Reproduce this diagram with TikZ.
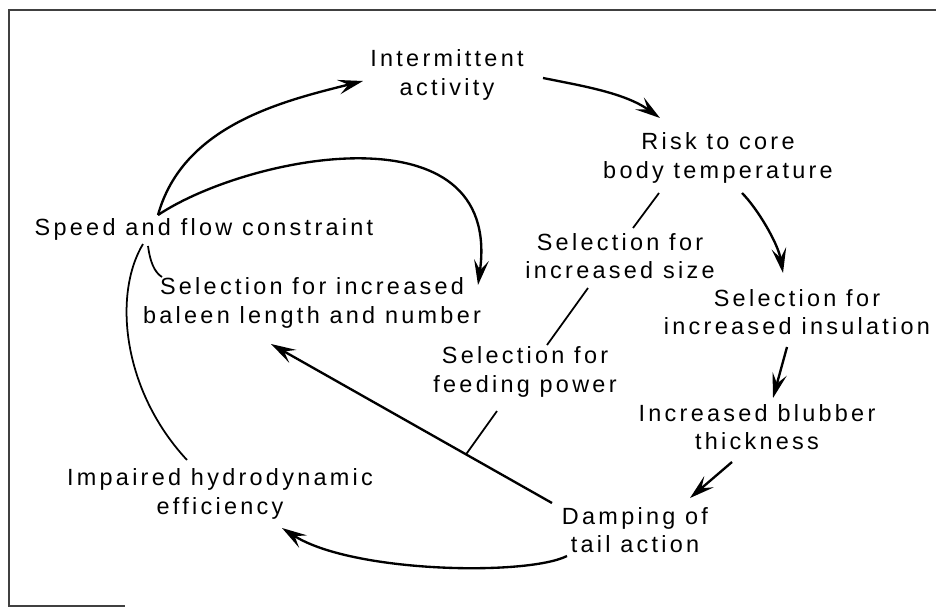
\documentclass[tikz,border=0pt]{standalone}
\usepackage{fontspec}
\setmainfont[LetterSpace=14]{Liberation Sans}
\usepackage{tikz}
\usetikzlibrary{positioning,arrows.meta,calc}
\tikzstyle{lbl}=[%
      rectangle, draw=none, fill=none, align=center,
      font=\fontsize{20}{24.5}\selectfont, inner sep=0pt
]
\tikzstyle{ar}=[%
      line width=2pt, -{Stealth[length=7.5mm,width=4.4mm,inset=3mm]}
]
\tikzstyle{ln}=[%
      line width=1.5pt
]
\tikzstyle{fr}=[%
      line width=1.5pt, draw=black!75
]
\begin{document}
\begin{tikzpicture}[x=0.03cm, y=-0.03cm]
    \useasboundingbox (0,0) rectangle (936,608);
    \draw[fr] (936,10) -- (9,10) -- (9,606) -- (125,606);

    \node[lbl] (act)    at (447,75)  {Intermittent\\activity};
    \node[lbl] (risk)   at (718,158) {Risk to core\\body temperature};
    \node[lbl] (speed)  at (204,229) {Speed and flow constraint};
    \node[lbl] (size)   at (620,256) {Selection for\\increased size};
    \node[lbl] (baleen) at (312,303) {Selection for increased\\baleen length and number};
    \node[lbl] (insul)  at (797,312) {Selection for\\increased insulation};
    \node[lbl] (feed)   at (525,372) {Selection for\\feeding power};
    \node[lbl] (blub)   at (757,427) {Increased blubber\\thickness};
    \node[lbl] (impair) at (220,494) {Impaired hydrodynamic\\efficiency};
    \node[lbl] (damp)   at (635,530) {Damping of\\tail action};

    \draw[ar] ($(speed)+(-46,-14)$) .. controls +(25,-90) and +(-80,20) .. ($(act)+(-84,6)$);
    \draw[ar] ($(act)+(96,3)$) .. controls +(40,8) and +(-35,-25) .. ($(risk)+(-58,-40)$);
    \draw[ar] ($(speed)+(-46,-14)$) .. controls +(90,-60) and +(25,-180) .. ($(baleen)+(166,-18)$);
    \draw[ln] ($(risk)+(-59,35)$) -- ($(size)+(13,-28)$);
    \draw[ln] ($(size)+(-32,32)$) -- ($(feed)+(22,-27)$);
    \draw[ar] ($(damp)+(-83,-27)$) -- coordinate[pos=0.306] (junc) ($(baleen)+(-41,41)$);
    \draw[ln] ($(feed)+(-28,39)$) -- (junc);
    \draw[ar] ($(risk)+(24,35)$) .. controls +(15,15) and +(-5,-30) .. ($(insul)+(-14,-39)$);
    \draw[ar] ($(insul)+(-10,35)$) -- ($(blub)+(16,-29)$);
    \draw[ar] ($(blub)+(-25,35)$) -- ($(damp)+(55,-32)$);
    \draw[ar] ($(damp)+(-68,26)$) .. controls +(-40,20) and +(70,45) .. ($(impair)+(62,34)$);
    \draw[ln] ($(speed)+(-61,15)$) .. controls +(-30,50) and +(-65,-70) .. ($(impair)+(-33,-34)$);
    \draw[ln] ($(speed)+(-56,17)$) .. controls +(2,15) and +(-8,-5) .. ($(baleen)+(-150,-26)$);
\end{tikzpicture}
\end{document}
